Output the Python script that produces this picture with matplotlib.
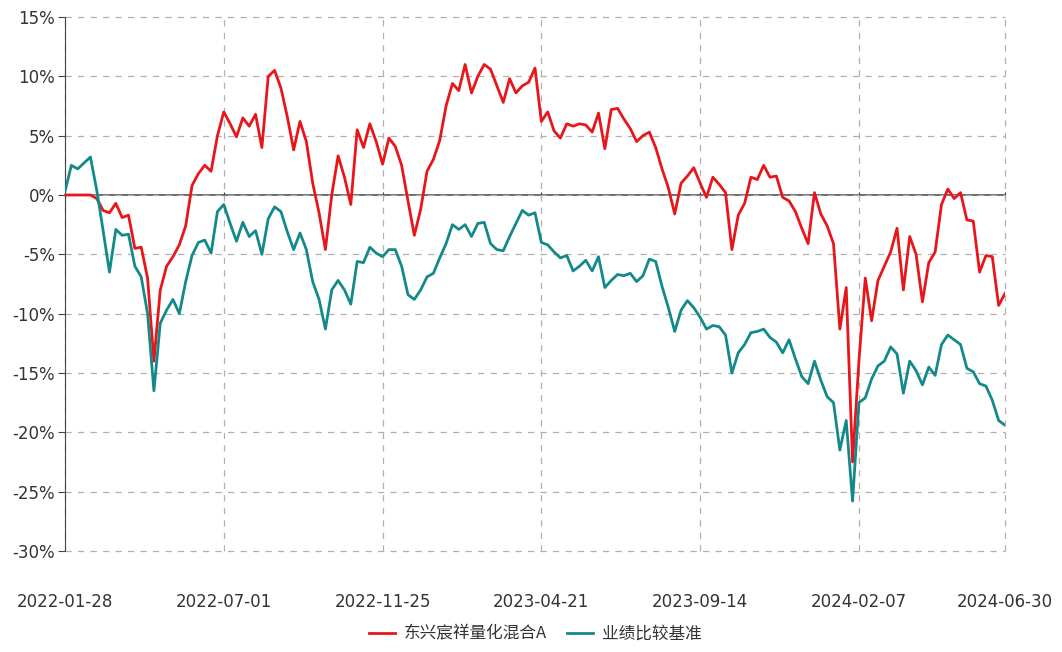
import matplotlib.pyplot as plt
import numpy as np

plt.rcParams['font.family'] = ['Noto Sans CJK SC', 'DejaVu Sans']

# sampled every 4 trading days, cumulative return in %
fund_ret = [0, 0, 0, 0, 0, -0.3, -1.3, -1.5, -0.7, -1.9,
            -1.7, -4.5, -4.4, -7.0, -14.0, -8.0, -6.0, -5.2, -4.2, -2.6,
            0.8, 1.8, 2.5, 2.0, 5.0, 7.0, 6.0, 4.9, 6.5, 5.8,
            6.8, 4.0, 10.0, 10.5, 9.0, 6.6, 3.8, 6.2, 4.5, 1.0,
            -1.5, -4.6, 0.0, 3.3, 1.5, -0.8, 5.5, 4.0, 6.0, 4.5,
            2.6, 4.8, 4.1, 2.5, -0.5, -3.4, -1.2, 2.0, 3.0, 4.6,
            7.5, 9.4, 8.8, 11.0, 8.6, 10.0, 11.0, 10.6, 9.2, 7.8,
            9.8, 8.6, 9.2, 9.5, 10.7, 6.2, 7.0, 5.4, 4.8, 6.0,
            5.8, 6.0, 5.9, 5.3, 6.9, 3.9, 7.2, 7.3, 6.4, 5.6,
            4.5, 5.0, 5.3, 4.0, 2.2, 0.6, -1.6, 1.0, 1.6, 2.3,
            1.0, -0.2, 1.5, 0.9, 0.2, -4.6, -1.7, -0.7, 1.5, 1.3,
            2.5, 1.5, 1.6, -0.2, -0.5, -1.4, -2.8, -4.1, 0.2, -1.6,
            -2.6, -4.1, -11.3, -7.8, -22.5, -14.0, -7.0, -10.6, -7.2, -6.0,
            -4.8, -2.8, -8.0, -3.5, -5.0, -9.0, -5.7, -4.8, -0.8, 0.5,
            -0.3, 0.2, -2.1, -2.2, -6.5, -5.1, -5.2, -9.3, -8.3]

bench_ret = [0.3, 2.5, 2.2, 2.7, 3.2, 0.4, -3.0, -6.5, -2.9, -3.4,
             -3.3, -6.0, -6.9, -10.0, -16.5, -10.8, -9.7, -8.8, -10.0, -7.3,
             -5.1, -4.0, -3.8, -4.9, -1.4, -0.8, -2.4, -3.9, -2.3, -3.5,
             -3.0, -5.0, -2.0, -1.0, -1.4, -3.1, -4.6, -3.2, -4.6, -7.3,
             -8.8, -11.3, -8.0, -7.2, -8.0, -9.2, -5.6, -5.7, -4.4, -4.9,
             -5.2, -4.6, -4.6, -6.0, -8.4, -8.8, -8.0, -6.9, -6.6, -5.3,
             -4.1, -2.5, -2.9, -2.5, -3.5, -2.4, -2.3, -4.1, -4.6, -4.7,
             -3.5, -2.4, -1.3, -1.7, -1.5, -4.0, -4.2, -4.8, -5.3, -5.1,
             -6.4, -6.0, -5.5, -6.4, -5.2, -7.8, -7.2, -6.7, -6.8, -6.6,
             -7.3, -6.8, -5.4, -5.6, -7.7, -9.5, -11.5, -9.7, -8.9, -9.5,
             -10.3, -11.3, -11.0, -11.1, -11.8, -15.0, -13.3, -12.6, -11.6, -11.5,
             -11.3, -12.0, -12.4, -13.3, -12.2, -13.8, -15.3, -15.9, -14.0, -15.6,
             -17.0, -17.5, -21.5, -19.0, -25.8, -17.5, -17.1, -15.5, -14.4, -14.0,
             -12.8, -13.4, -16.7, -14.0, -14.8, -16.0, -14.5, -15.2, -12.6, -11.8,
             -12.2, -12.6, -14.6, -14.9, -15.9, -16.1, -17.3, -19.0, -19.4]

step_days = 4
tick_days = [0, 100, 200, 300, 400, 500, 592]
tick_labels = ['2022-01-28', '2022-07-01', '2022-11-25', '2023-04-21',
               '2023-09-14', '2024-02-07', '2024-06-30']
y_ticks = [15, 10, 5, 0, -5, -10, -15, -20, -25, -30]

names = ['东兴宸祥量化混合A', '业绩比较基准']
red = '#e8161b'
teal = '#14898a'

x = np.arange(len(fund_ret)) * step_days

fig = plt.figure(figsize=(10.62, 6.52), dpi=100)
ax = fig.add_axes([65 / 1062, 1 - 551 / 652, (1005 - 65) / 1062, (551 - 17) / 652])

ax.plot(x, fund_ret, color=red, lw=2.0, label=names[0], zorder=3)
ax.plot(x, bench_ret, color=teal, lw=2.0, label=names[1], zorder=3)

ax.set_xlim(0, tick_days[-1])
ax.set_ylim(-30, 15)
ax.set_xticks(tick_days)
ax.set_xticklabels(tick_labels, fontfamily='DejaVu Sans')
ax.set_yticks(y_ticks)
ax.set_yticklabels([f'{v}%' for v in y_ticks], fontfamily='DejaVu Sans')

ax.grid(True, color='#b0b0b0', linestyle=(0, (5, 5)), linewidth=0.9)
# keep the edge grid lines (15%, -30%, last date) fully visible
for gl in ax.get_xgridlines() + ax.get_ygridlines():
    gl.set_clip_on(False)
for s in ['top', 'right', 'bottom']:
    ax.spines[s].set_visible(False)
ax.spines['left'].set_color('#444444')
ax.tick_params(axis='y', length=5, color='#444444', labelsize=12, labelcolor='#333333', pad=2)
ax.tick_params(axis='x', length=0, labelsize=12, labelcolor='#333333', pad=30)

# zero line with small ticks
zero_ax = ax.secondary_xaxis(0, transform=ax.transData)
zero_ax.set_xticks(tick_days)
zero_ax.tick_params(length=4, direction='inout', color='#333333', labelbottom=False)
zero_ax.spines['bottom'].set_color('#555555')
zero_ax.spines['bottom'].set_linewidth(1.2)

fig.legend(loc='center', bbox_to_anchor=(535 / 1062, 1 - 634 / 652), ncol=2, frameon=False,
           fontsize=12, handlelength=1.6, columnspacing=1.2, handletextpad=0.5,
           labelcolor='#333333')

plt.savefig('out.png', dpi=100)
